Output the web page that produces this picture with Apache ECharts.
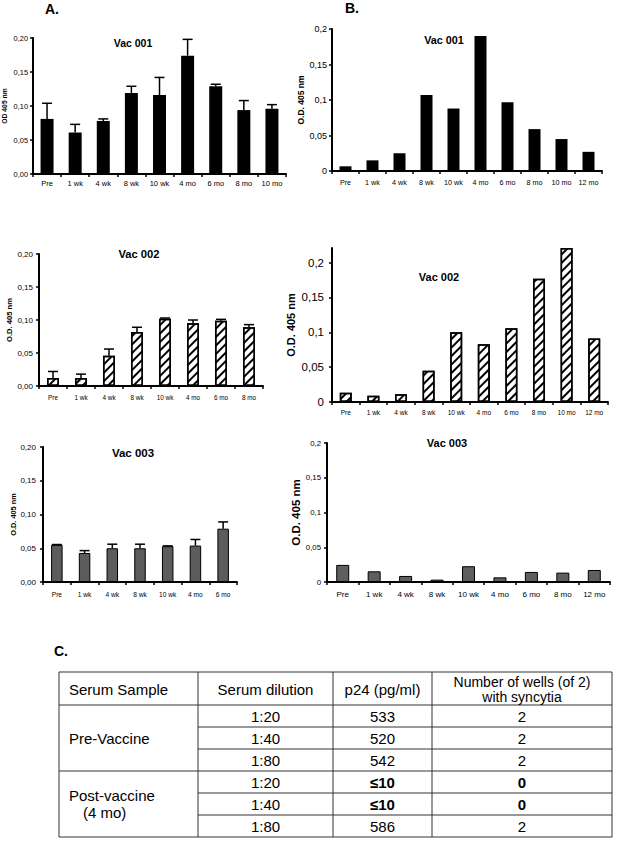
<!DOCTYPE html>
<html>
<head>
<meta charset="utf-8">
<script src="https://cdn.jsdelivr.net/npm/echarts@6/dist/echarts.min.js"></script>
<style>
html,body{margin:0;padding:0;background:#fff;}
#c{width:619px;height:846px;}
</style>
</head>
<body>
<div id="c"></div>
<script>
// ---------- DATA ----------
const catA1 = ['Pre','1 wk','4 wk','8 wk','10 wk','4 mo','6 mo','8 mo','10 mo'];
const valA1 = [0.081,0.061,0.078,0.119,0.116,0.174,0.129,0.094,0.096];
const errA1 = [0.023,0.012,0.003,0.010,0.026,0.024,0.003,0.014,0.006];

const catB1 = ['Pre','1 wk','4 wk','8 wk','10 wk','4 mo','6 mo','8 mo','10 mo','12 mo'];
const valB1 = [0.0066,0.015,0.025,0.107,0.088,0.190,0.097,0.059,0.045,0.027];

const catA2 = ['Pre','1 wk','4 wk','8 wk','10 wk','4 mo','6 mo','8 mo'];
const valA2 = [0.012,0.012,0.046,0.082,0.102,0.095,0.099,0.089];
const errA2 = [0.010,0.006,0.010,0.007,0.001,0.005,0.002,0.004];

const catB2 = ['Pre','1 wk','4 wk','8 wk','10 wk','4 mo','6 mo','8 mo','10 mo','12 mo'];
const valB2 = [0.0134,0.0091,0.011,0.045,0.100,0.083,0.106,0.177,0.221,0.091];

const catA3 = ['Pre','1 wk','4 wk','8 wk','10 wk','4 mo','6 mo'];
const valA3 = [0.055,0.043,0.050,0.050,0.053,0.054,0.079];
const errA3 = [0.0005,0.0035,0.006,0.006,0.0005,0.009,0.010];

const catB3 = ['Pre','1 wk','4 wk','8 wk','10 wk','4 mo','6 mo','8 mo','12 mo'];
const valB3 = [0.0246,0.0154,0.0087,0.0034,0.0227,0.0067,0.0145,0.0135,0.0173];

const yTicksA = [0,0.05,0.10,0.15,0.20];
const yTicksB = [0,0.05,0.1,0.15,0.2];

const tableHeader = ['Serum Sample','Serum dilution','p24 (pg/ml)',['Number of wells (of 2)','with syncytia']];
const tableGroups = [['Pre-Vaccine'],['Post-vaccine','(4 mo)']];
const tableDilution = ['1:20','1:40','1:80','1:20','1:40','1:80'];
const tableP24 = ['533','520','542','≤10','≤10','586'];
const tableWells = ['2','2','2','0','0','2'];
const tableBold = [false,false,false,true,true,false];

// ---------- LAYOUT / STYLE ----------
const FONT = 'Liberation Sans, Arial, Helvetica, sans-serif';
const fmtA = v => v.toFixed(2).replace('.', ',');
const fmtB = v => (v === 0 ? '0' : String(+v.toFixed(2)).replace('.', ','));

const panels = [
  {grid:{left:32, top:38, width:254, height:136}, cats:catA1, max:0.2, fmt:fmtA, ticks:yTicksA,
   yName:'OD 405 nm', nameSize:6.8, nameGap:25, yl:7.4, ylm:5, xl:7.5, xlm:5},
  {grid:{left:332, top:29, width:270, height:142}, cats:catB1, max:0.2, fmt:fmtB, ticks:yTicksB,
   yName:'O.D. 405 nm', nameSize:8.5, nameGap:27, yl:9, ylm:5, xl:7.2, xlm:8},
  {grid:{left:39, top:254, width:224, height:132}, cats:catA2, max:0.2, fmt:fmtA, ticks:yTicksA,
   yName:'O.D. 405 nm', nameSize:7.6, nameGap:24, yl:8, ylm:6, xl:6.4, xlm:8},
  {grid:{left:332, top:248, width:276, height:154}, cats:catB2, max:0.221, fmt:fmtB, ticks:yTicksB,
   yName:'O.D. 405 nm', nameSize:11, nameGap:36, yl:11.5, ylm:8, xl:6.5, xlm:6.5},
  {grid:{left:43, top:447, width:194, height:135}, cats:catA3, max:0.2, fmt:fmtA, ticks:yTicksA,
   yName:'O.D. 405 nm', nameSize:7.4, nameGap:26, yl:8, ylm:7, xl:6.6, xlm:8.5},
  {grid:{left:327, top:443, width:283, height:139}, cats:catB3, max:0.2, fmt:fmtB, ticks:yTicksB,
   yName:'O.D. 405 nm', nameSize:11.5, nameGap:24, yl:7.8, ylm:6, xl:8, xlm:8}
];

const axisLine = {show:true, lineStyle:{color:'#000', width:2}};
const axisTick = {show:true, length:3, lineStyle:{color:'#000', width:1.5}};

const xAxis = panels.map((p, i) => ({
  type:'category', gridIndex:i, data:p.cats, boundaryGap:true,
  axisLine, axisTick:Object.assign({alignWithLabel:false, interval:0}, axisTick),
  axisLabel:{interval:0, fontSize:p.xl, margin:p.xlm, color:'#000', fontFamily:FONT},
  splitLine:{show:false}
}));
const yAxis = panels.map((p, i) => ({
  type:'value', gridIndex:i, min:0, max:p.max, interval:0.05,
  name:p.yName, nameLocation:'middle', nameRotate:90, nameGap:p.nameGap,
  nameTextStyle:{fontSize:p.nameSize, fontWeight:'bold', color:'#000', fontFamily:FONT},
  axisLine, axisTick:Object.assign({customValues:p.ticks}, axisTick),
  axisLabel:{customValues:p.ticks, formatter:p.fmt, fontSize:p.yl, margin:p.ylm, color:'#000', fontFamily:FONT},
  splitLine:{show:false}
}));

const hatch = {symbol:'rect', symbolSize:1, color:'#000', backgroundColor:'#fff',
  dashArrayX:[1,0], dashArrayY:[2,3.2], rotation:-Math.PI/4};

function errorSeries(idx, vals, errs) {
  return {
    type:'custom', xAxisIndex:idx, yAxisIndex:idx, z:5, silent:true,
    data: vals.map((v, i) => [i, v, v + errs[i]]),
    renderItem: function (params, api) {
      const lo = api.coord([api.value(0), api.value(1)]);
      const hi = api.coord([api.value(0), api.value(2)]);
      const st = {stroke:'#000', lineWidth:1.5};
      return {type:'group', children:[
        {type:'line', shape:{x1:lo[0], y1:lo[1], x2:lo[0], y2:hi[1]}, style:st},
        {type:'line', shape:{x1:lo[0]-5, y1:hi[1], x2:lo[0]+5, y2:hi[1]}, style:st}
      ]};
    }
  };
}

const series = [
  {type:'bar', xAxisIndex:0, yAxisIndex:0, data:valA1, barWidth:13, itemStyle:{color:'#000'}},
  errorSeries(0, valA1, errA1),
  {type:'bar', xAxisIndex:1, yAxisIndex:1, data:valB1, barWidth:12, itemStyle:{color:'#000'}},
  {type:'bar', xAxisIndex:2, yAxisIndex:2, data:valA2, barWidth:12,
   itemStyle:{color:'#fff', borderColor:'#000', borderWidth:1.5, decal:hatch}},
  errorSeries(2, valA2, errA2),
  {type:'bar', xAxisIndex:3, yAxisIndex:3, data:valB2, barWidth:12,
   itemStyle:{color:'#fff', borderColor:'#000', borderWidth:1.5, decal:hatch}},
  {type:'bar', xAxisIndex:4, yAxisIndex:4, data:valA3, barWidth:11.5,
   itemStyle:{color:'#5c5c5c', borderColor:'#000', borderWidth:1}},
  errorSeries(4, valA3, errA3),
  {type:'bar', xAxisIndex:5, yAxisIndex:5, data:valB3, barWidth:13,
   itemStyle:{color:'#5f5f5f', borderColor:'#000', borderWidth:1}}
];

function ttl(text, cx, top, size) {
  return {text, left:cx, top, textAlign:'center', padding:0, itemGap:0,
    textStyle:{fontSize:size, fontWeight:'bold', color:'#000', fontFamily:FONT}};
}
const titles = [
  ttl('A.', 52, 2, 14), ttl('B.', 352, 1, 14), ttl('C.', 61, 644, 14),
  ttl('Vac 001', 133, 37, 10.5), ttl('Vac 001', 444, 34, 10.8),
  ttl('Vac 002', 139, 248, 11.2), ttl('Vac 002', 439, 271, 11),
  ttl('Vac 003', 133, 447, 11.5), ttl('Vac 003', 447, 437, 11)
];

// ---------- TABLE (graphic) ----------
const colX = [59, 198, 333, 432, 612];
const tTop = 672, hBot = 705, rowH = 22;
const TS = 15;
const g = [];
const lineSt = {stroke:'#333', lineWidth:1};
function hl(x1, x2, y) { g.push({type:'line', shape:{x1, y1:y, x2, y2:y}, style:lineSt}); }
function vl(x, y1, y2) { g.push({type:'line', shape:{x1:x, y1, x2:x, y2}, style:lineSt}); }
function txt(s, x, y, align, bold, size) {
  g.push({type:'text', x, y, style:{text:s, align:align || 'center', verticalAlign:'middle',
    font:(bold ? 'bold ' : '') + (size || TS) + 'px ' + FONT, fill:'#000'}});
}
const nRows = tableDilution.length;
const tBot = hBot + nRows * rowH;
hl(colX[0], colX[4], tTop);
hl(colX[0], colX[4], hBot);
hl(colX[0], colX[4], tBot);
colX.forEach(x => vl(x, tTop, tBot));
for (let r = 1; r < nRows; r++) {
  const y = hBot + r * rowH;
  if (r === 3) hl(colX[0], colX[4], y); else hl(colX[1], colX[4], y);
}
// header
txt(tableHeader[0], 69, (tTop + hBot) / 2 + 0.5, 'left');
txt(tableHeader[1], (colX[1] + colX[2]) / 2, (tTop + hBot) / 2 + 0.5);
txt(tableHeader[2], (colX[2] + colX[3]) / 2, (tTop + hBot) / 2 + 0.5);
txt(tableHeader[3][0], (colX[3] + colX[4]) / 2, 681.5, 'center', false, 14);
txt(tableHeader[3][1], (colX[3] + colX[4]) / 2, 697, 'center', false, 14);
// groups
txt(tableGroups[0][0], 69, hBot + 1.5 * rowH, 'left');
txt(tableGroups[1][0], 69, hBot + 4.5 * rowH - 8.5, 'left');
txt(tableGroups[1][1], 83, hBot + 4.5 * rowH + 8.5, 'left');
// cells
for (let r = 0; r < nRows; r++) {
  const y = hBot + (r + 0.5) * rowH + 0.5;
  txt(tableDilution[r], (colX[1] + colX[2]) / 2, y);
  txt(tableP24[r], (colX[2] + colX[3]) / 2, y, 'center', tableBold[r]);
  txt(tableWells[r], (colX[3] + colX[4]) / 2, y, 'center', tableBold[r]);
}

const chart = echarts.init(document.getElementById('c'), null, {renderer:'svg', width:619, height:846});
chart.setOption({
  animation:false,
  backgroundColor:'#fff',
  textStyle:{fontFamily:FONT},
  title:titles,
  grid:panels.map(p => Object.assign({containLabel:false}, p.grid)),
  xAxis, yAxis, series,
  graphic:{elements:g}
});
</script>
</body>
</html>
